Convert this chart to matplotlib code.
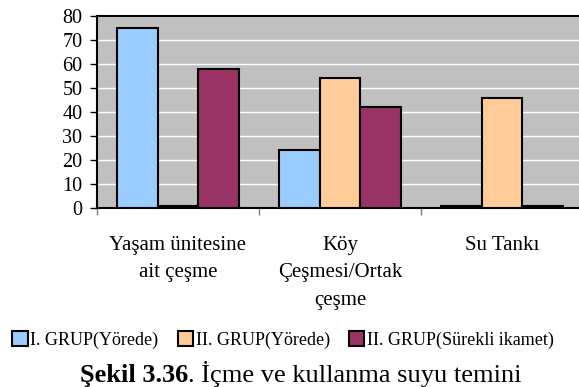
import numpy as np
import matplotlib.pyplot as plt
from matplotlib.transforms import blended_transform_factory

plt.rcParams['font.family'] = ['Liberation Serif', 'DejaVu Serif']

categories = ['Yaşam ünitesine\nait çeşme', 'Köy\nÇeşmesi/Ortak\nçeşme', 'Su Tankı']
series_names = ['I. GRUP(Yörede)', 'II. GRUP(Yörede)', 'II. GRUP(Sürekli ikamet)']
grup1_yorede = [75, 24, 1]
grup2_yorede = [1, 54, 46]
grup2_ikamet = [58, 42, 1]
colors = ['#99CCFF', '#FFCC99', '#993366']

W, H = 579, 387
fig = plt.figure(figsize=(W / 100, H / 100), dpi=100)
ax = fig.add_axes([97 / W, 1 - 208 / H, 486 / W, 192 / H])
ax.set_facecolor('#C0C0C0')

x = np.arange(len(categories))
w = 0.25
for i, (vals, c) in enumerate(zip([grup1_yorede, grup2_yorede, grup2_ikamet], colors)):
    ax.bar(x + (i - 1) * w, vals, w, color=c, edgecolor='black', linewidth=1.5,
           label=series_names[i], zorder=3)

ax.set_xlim(-0.5, 2.5)
ax.set_ylim(0, 80)
ax.set_yticks(range(0, 81, 10))
ax.yaxis.grid(True, color='white', linewidth=1, zorder=0)
ax.set_axisbelow(True)
ax.tick_params(axis='y', labelsize=14.5, length=5, width=1, pad=5.5)

# category ticks sit on the boundaries, labels go in between
ax.set_xticks([-0.5, 0.5, 1.5, 2.5])
ax.set_xticklabels([])
ax.tick_params(axis='x', length=5, width=1, color='#808080')
lab_tr = blended_transform_factory(ax.transData, fig.transFigure)
for xi, lab in zip(x, categories):
    ax.text(xi, 1 - 236 / H, lab, transform=lab_tr, ha='center', va='top',
            fontsize=15, linespacing=1.6, clip_on=False)

for s in ax.spines.values():
    s.set_linewidth(1.5)
    s.set_color('black')

fig.legend(loc='center', bbox_to_anchor=(283 / W, 1 - 340 / H), ncol=3, frameon=False,
           fontsize=13, handlelength=0.85, handleheight=0.85, handletextpad=0.15,
           columnspacing=1.05, borderpad=0, borderaxespad=0)

# caption: bold figure number followed by the title
cy = 1 - 382 / H
t1 = fig.text(80 / W, cy, 'Şekil 3.36', fontsize=19, fontweight='bold', va='baseline')
fig.canvas.draw()
bb = t1.get_window_extent()
fig.text(bb.x1 / W, cy, '. İçme ve kullanma suyu temini', fontsize=19, va='baseline')

fig.savefig('out.png', dpi=100)
